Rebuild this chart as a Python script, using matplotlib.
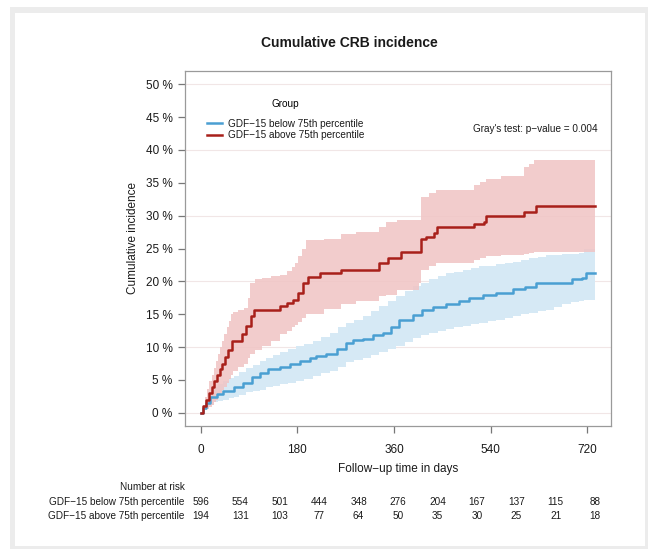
import numpy as np
import matplotlib
matplotlib.use("Agg")
import matplotlib.pyplot as plt
import matplotlib.transforms as mtransforms
from matplotlib.patches import Rectangle

plt.rcParams['font.family'] = ['Liberation Sans', 'DejaVu Sans']

# ---- data (days, cumulative incidence in %) ----
group_names = ["GDF\u221215 below 75th percentile", "GDF\u221215 above 75th percentile"]

low_t = [0, 5, 10, 17, 30, 42, 61, 79, 95, 110, 126, 147, 166, 184, 203, 215, 234, 253, 271,
         284, 302, 321, 339, 355, 370, 395, 413, 432, 457, 482, 500, 525, 550, 581, 605, 624,
         692, 711, 717, 735]
low_ci = [0, 0.8, 1.5, 2.4, 2.9, 3.4, 3.9, 4.6, 5.4, 6.1, 6.7, 7.0, 7.4, 7.9, 8.4, 8.7, 8.9, 9.7,
          10.7, 11.1, 11.2, 11.9, 12.2, 13.0, 14.1, 14.9, 15.6, 16.1, 16.5, 17.0, 17.5, 18.0, 18.3,
          18.8, 19.2, 19.8, 20.3, 20.5, 21.2, 21.2]

low_band_t = [0, 5, 10, 16, 24, 33, 42, 52, 61, 72, 85, 97, 110, 122, 135, 147, 162, 178, 193,
              209, 224, 240, 255, 271, 286, 302, 318, 333, 349, 364, 380, 395, 411, 426, 442,
              457, 472, 488, 504, 519, 535, 550, 566, 581, 597, 612, 628, 643, 659, 674, 690,
              705, 714, 735]
low_upper = [0, 1.2, 2.0, 3.0, 3.9, 4.4, 4.9, 5.3, 5.6, 6.2, 6.8, 7.3, 7.9, 8.4, 8.8, 9.2, 9.7,
             10.2, 10.5, 10.9, 11.5, 12.2, 13.0, 13.7, 14.2, 14.7, 15.5, 16.2, 17.0, 17.7, 18.5,
             19.3, 19.8, 20.3, 20.8, 21.3, 21.5, 21.8, 22.0, 22.3, 22.4, 22.6, 22.8, 23.0, 23.2,
             23.5, 23.7, 24.0, 24.0, 24.1, 24.2, 24.3, 25.0, 25.0]
low_lower = [0, 0.4, 0.8, 1.2, 1.6, 1.8, 2.0, 2.2, 2.4, 2.7, 3.1, 3.3, 3.5, 3.9, 4.1, 4.4, 4.6,
             4.9, 5.2, 5.6, 6.0, 6.4, 7.0, 7.7, 8.0, 8.4, 8.8, 9.2, 9.7, 10.2, 10.8, 11.4, 11.8,
             12.2, 12.4, 12.7, 13.0, 13.2, 13.5, 13.7, 14.0, 14.2, 14.5, 14.7, 15.0, 15.2, 15.5,
             15.7, 16.1, 16.5, 16.8, 17.0, 17.2, 17.3]

high_t = [0, 5, 10, 15, 20, 25, 30, 35, 40, 45, 50, 58, 76, 85, 93, 99, 147, 160, 172, 181, 191,
          200, 222, 262, 332, 348, 373, 410, 420, 435, 441, 509, 528, 531, 602, 624, 735]
high_ci = [0, 1.0, 2.0, 3.0, 4.0, 4.8, 5.7, 6.6, 7.5, 8.5, 9.6, 10.9, 12.0, 13.2, 14.7, 15.7, 16.2,
           16.7, 17.2, 18.2, 19.8, 20.7, 21.3, 21.8, 22.8, 23.5, 24.5, 26.5, 26.8, 27.3, 28.3,
           28.8, 29.1, 30.0, 30.6, 31.5, 31.5]

high_band_t = [0, 4, 8, 12, 16, 20, 24, 28, 32, 36, 40, 44, 48, 52, 56, 60, 70, 80, 88, 92, 101,
               115, 130, 147, 160, 170, 175, 181, 188, 197, 230, 262, 290, 333, 345, 365, 407,
               410, 425, 438, 509, 520, 531, 560, 602, 612, 621, 735]
high_upper = [0, 1.2, 2.4, 3.6, 4.8, 5.8, 6.8, 7.9, 9.0, 10.0, 11.0, 12.0, 13.0, 14.0, 15.0,
              15.3, 15.6, 16.0, 17.5, 19.8, 20.3, 20.5, 20.8, 21.0, 21.6, 22.2, 22.8, 23.8, 25.0,
              26.3, 26.5, 27.2, 27.5, 28.2, 29.0, 29.3, 29.3, 32.8, 33.4, 33.9, 34.6, 35.1, 35.6,
              36.1, 37.4, 37.9, 38.4, 38.4]
high_lower = [0, 0.2, 0.4, 0.6, 0.9, 1.2, 1.6, 2.0, 2.5, 3.0, 3.5, 4.0, 4.6, 5.2, 5.8, 6.4, 7.0,
              7.5, 8.3, 9.0, 9.6, 10.2, 11.0, 12.0, 12.5, 13.0, 13.4, 13.8, 14.4, 15.0, 15.8,
              16.5, 17.0, 17.7, 17.9, 18.7, 19.7, 21.8, 22.3, 22.8, 23.3, 23.6, 23.8, 24.0, 24.1,
              24.3, 24.4, 24.4]

risk_times = [0, 73.5, 147, 220.5, 294, 367.5, 441, 514.5, 588, 661.5, 735]
risk_low = [596, 554, 501, 444, 348, 276, 204, 167, 137, 115, 88]
risk_high = [194, 131, 103, 77, 64, 50, 35, 30, 25, 21, 18]

blue = "#4a9fd2"
red = "#a8201a"
blue_fill = "#d6e9f5"
red_fill = "#f0c4c4"
txt = "#1a1a1a"

W, H = 648, 549
fig = plt.figure(figsize=(W / 100, H / 100), dpi=100)


def fx(px):
    return px / W


def fy(py):
    return 1 - py / H


# page frame
fig.patches.append(Rectangle((fx(10), 0), 1 - fx(10), fy(7), transform=fig.transFigure,
                             facecolor="#ececec", edgecolor="none", zorder=-2))
fig.patches.append(Rectangle((fx(15), fy(546)), fx(645) - fx(15), fy(13) - fy(546),
                             transform=fig.transFigure, facecolor="white", edgecolor="none",
                             zorder=-1))

ax = fig.add_axes([fx(185), fy(426), fx(611) - fx(185), fy(71) - fy(426)])
ax.set_xlim(-29.4, 764.4)
ax.set_ylim(-2, 52)

for g in range(0, 51, 10):
    ax.axhline(g, color="#f1e6e6", lw=0.8, zorder=0)

ax.fill_between(low_band_t, low_lower, low_upper, step="post", color=blue_fill, lw=0, zorder=1)
ax.fill_between(high_band_t, high_lower, high_upper, step="post", color=red_fill, lw=0,
                zorder=1, alpha=0.85)
ax.plot(low_t, low_ci, drawstyle="steps-post", color=blue, lw=1.8, zorder=3, label=group_names[0])
ax.plot(high_t, high_ci, drawstyle="steps-post", color=red, lw=1.8, zorder=3, label=group_names[1])

ax.set_xticks([0, 180, 360, 540, 720])
ax.set_yticks(range(0, 51, 5))
ax.set_yticklabels([f"{v} %" for v in range(0, 51, 5)])
ax.tick_params(axis="both", labelsize=8.5, colors="#777777", labelcolor=txt, length=5, width=0.9)
ax.tick_params(axis="y", pad=4)
ax.tick_params(axis="x", pad=8)
for s in ax.spines.values():
    s.set_color("#9a9a9a")
    s.set_linewidth(0.9)

leg = ax.legend(loc="upper left", bbox_to_anchor=(fx(207), fy(99)),
                bbox_transform=fig.transFigure, frameon=False, title="Group", fontsize=7.2,
                title_fontsize=7.2, handlelength=1.5, handletextpad=0.6, labelspacing=0.15,
                borderaxespad=0, borderpad=0)
for t in leg.get_texts():
    t.set_color(txt)
leg._legend_box.sep = 7

ax.text(fx(598), fy(129), "Gray's test: p\u2212value = 0.004", transform=fig.transFigure,
        ha="right", va="center", fontsize=7.2, color=txt)

fig.text(fx(349), fy(43), "Cumulative CRB incidence", ha="center", va="center",
         fontsize=10, fontweight="bold", color=txt)
fig.text(fx(133), fy(238), "Cumulative incidence", rotation=90, ha="center", va="center",
         fontsize=8.5, color=txt)
fig.text(fx(398), fy(469), "Follow\u2212up time in days", ha="center", va="center",
         fontsize=8.5, color=txt)

# number at risk table
fig.text(fx(185), fy(487), "Number at risk", ha="right", va="center", fontsize=7.2, color=txt)
trans = mtransforms.blended_transform_factory(ax.transData, fig.transFigure)
for row_y, name, counts in [(502, group_names[0], risk_low), (516, group_names[1], risk_high)]:
    fig.text(fx(184), fy(row_y), name, ha="right", va="center", fontsize=7.2, color=txt)
    for t, n in zip(risk_times, counts):
        ax.text(t, fy(row_y), str(n), transform=trans, ha="center", va="center",
                fontsize=7.2, color=txt, clip_on=False)

fig.savefig("out.png", dpi=100, facecolor="white")
